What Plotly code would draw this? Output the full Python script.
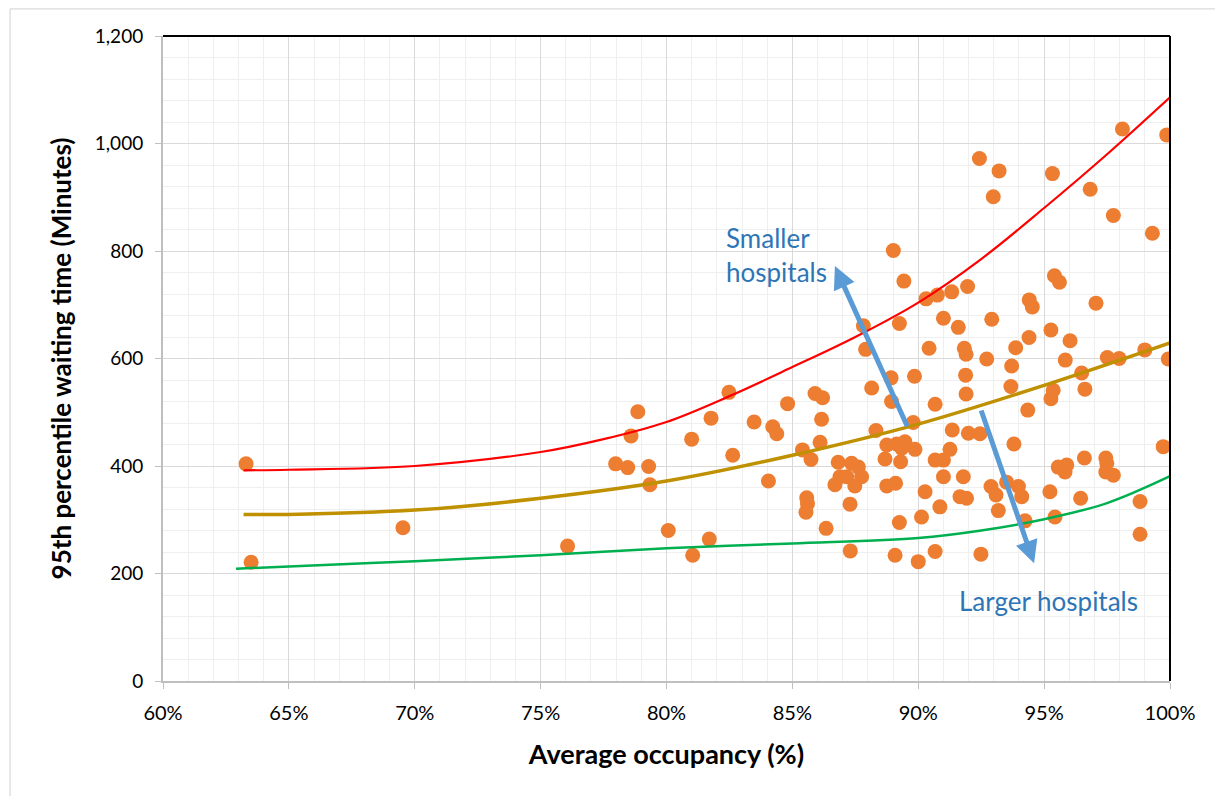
import plotly.graph_objects as go

# ---- data ----
occupancy = [63.30, 63.50, 69.53, 76.07, 77.98, 78.46, 78.59, 78.86, 79.29, 79.34,
             80.07, 81.00, 81.04, 81.70, 81.77, 82.48, 82.63, 83.48, 84.05, 84.22,
             84.38, 84.81, 85.40, 85.74, 85.57, 85.60, 85.54, 85.90, 86.20, 86.16,
             86.10, 86.34, 87.30, 87.29, 86.82, 87.35, 87.62, 87.75, 86.89, 87.16,
             86.69, 87.48, 87.82, 87.91, 88.15, 88.32, 88.75, 88.68, 88.75, 88.92,
             88.94, 89.01, 89.10, 89.14, 89.08, 89.25, 89.25, 89.30, 89.34, 89.43,
             89.47, 89.80, 89.85, 89.87, 90.00, 90.13, 90.27, 90.31, 90.43, 90.67,
             90.67, 90.67, 90.76, 90.86, 91.00, 91.00, 91.00, 91.26, 91.33, 91.35,
             91.59, 91.79, 91.66, 91.92, 91.83, 91.90, 91.88, 91.90, 91.96, 91.99,
             92.43, 92.45, 92.49, 92.72, 92.89, 92.92, 92.98, 93.09, 93.18, 93.21,
             93.51, 93.68, 93.71, 93.80, 93.87, 93.98, 94.11, 94.24, 94.35, 94.40,
             94.41, 94.53, 95.23, 95.27, 95.27, 95.33, 95.36, 95.41, 95.43, 95.56,
             95.61, 95.83, 95.84, 95.90, 96.03, 96.45, 96.49, 96.60, 96.62, 96.83,
             97.06, 97.45, 97.49, 97.45, 97.51, 97.75, 97.75, 97.98, 98.11, 98.81,
             98.81, 99.00, 99.30, 99.73, 99.87, 99.93]
waiting = [404, 221, 285, 251, 404, 397, 456, 501, 399, 365,
           280, 450, 234, 264, 489, 537, 420, 482, 372, 473,
           460, 516, 430, 412, 341, 330, 314, 535, 527, 487,
           444, 284, 242, 329, 407, 405, 398, 380, 380, 380,
           365, 363, 661, 617, 545, 466, 439, 413, 363, 564,
           520, 801, 368, 441, 234, 665, 295, 408, 433, 744,
           445, 481, 567, 431, 222, 305, 352, 711, 619, 515,
           411, 241, 718, 324, 675, 411, 380, 431, 724, 467,
           658, 380, 343, 340, 619, 608, 569, 534, 734, 461,
           972, 460, 236, 599, 362, 673, 901, 346, 317, 949,
           370, 548, 586, 441, 620, 362, 343, 298, 504, 639,
           709, 696, 352, 653, 525, 944, 541, 754, 305, 398,
           742, 389, 597, 402, 633, 340, 573, 415, 543, 915,
           703, 415, 405, 389, 602, 383, 866, 600, 1027, 334,
           273, 616, 833, 436, 1016, 599]

upper_x = [63.2, 65, 70, 75, 77.5, 80, 82.5, 85, 87.5, 90, 92.5, 95, 97.5, 100]
upper_y = [392, 393, 400, 426, 450, 482, 530, 584, 640, 704, 785, 880, 980, 1086]
mid_x = [63.2, 65, 70, 75, 80, 85, 90, 95, 100]
mid_y = [310, 310, 318, 340, 372, 420, 478, 550, 629]
lower_x = [62.9, 65, 70, 75, 80, 85, 90, 92.5, 95, 97.5, 100]
lower_y = [209, 213, 223, 234, 247, 256, 266, 280, 301, 331, 381]

x_ticks = [60, 65, 70, 75, 80, 85, 90, 95, 100]
x_labels = [f"{v}%" for v in x_ticks]

FONT = "Lato"
TXT = "#000000"
BLUE = "#2E75B6"
ARROW = "#5B9BD5"

fig = go.Figure()
fig.add_trace(go.Scatter(x=occupancy, y=waiting, mode="markers",
                         marker=dict(color="#ED7D31", size=15, line=dict(width=0)),
                         hoverinfo="x+y", showlegend=False))
fig.add_trace(go.Scatter(x=upper_x, y=upper_y, mode="lines", line=dict(color="#FF0000", width=2.2, shape="spline"),
                         showlegend=False))
fig.add_trace(go.Scatter(x=mid_x, y=mid_y, mode="lines", line=dict(color="#BF9000", width=3.5, shape="spline"),
                         showlegend=False))
fig.add_trace(go.Scatter(x=lower_x, y=lower_y, mode="lines", line=dict(color="#00B050", width=2.5, shape="spline"),
                         showlegend=False))

fig.update_layout(
    width=1215, height=788,
    margin=dict(l=155, r=53, t=28, b=115),
    paper_bgcolor="white", plot_bgcolor="white",
    font=dict(family=FONT, color=TXT, size=19),
    xaxis=dict(range=[60, 100], tickvals=x_ticks, ticktext=x_labels,
               showgrid=True, gridcolor="#D9D9D9", gridwidth=1,
               minor=dict(dtick=1, showgrid=True, gridcolor="#EFEFEF", gridwidth=1),
               showline=True, linecolor="#BFBFBF", linewidth=2,
               ticks="outside", ticklen=6, tickcolor="#BFBFBF", ticklabelstandoff=7,
               tickfont=dict(size=20, family=FONT), zeroline=False,
               title=dict(text="<b>Average occupancy (%)</b>", font=dict(size=27, family=FONT), standoff=22)),
    yaxis=dict(range=[0, 1200], dtick=200, tickformat=",",
               showgrid=True, gridcolor="#D9D9D9", gridwidth=1,
               minor=dict(dtick=40, showgrid=True, gridcolor="#EFEFEF", gridwidth=1),
               showline=True, linecolor="#BFBFBF", linewidth=2,
               ticks="outside", ticklen=6, tickcolor="#BFBFBF", ticklabelstandoff=8,
               tickfont=dict(size=19, family=FONT), zeroline=False,
               title=dict(text="<b>95th percentile waiting time (Minutes)</b>", font=dict(size=26, family=FONT), standoff=16)),
    shapes=[
        dict(type="line", xref="paper", yref="paper", x0=0, x1=1, y0=1, y1=1,
             line=dict(color="black", width=2)),
        dict(type="line", xref="paper", yref="paper", x0=1, x1=1, y0=0, y1=1,
             line=dict(color="black", width=2)),
        dict(type="rect", xref="paper", yref="paper", x0=-0.1519, x1=1.07, y0=-0.2, y1=1.042,
             line=dict(color="#D0D0D0", width=1), layer="below"),
    ],
    annotations=[
        dict(x=86.69, y=772, xref="x", yref="y", ax=89.59, ay=471, axref="x", ayref="y",
             showarrow=True, arrowhead=2, arrowsize=0.9, arrowwidth=5, arrowcolor=ARROW, text=""),
        dict(x=94.6, y=219, xref="x", yref="y", ax=92.48, ay=506, axref="x", ayref="y",
             showarrow=True, arrowhead=2, arrowsize=0.9, arrowwidth=5, arrowcolor=ARROW, text=""),
        dict(x=82.3, y=858, xref="x", yref="y", xanchor="left", yanchor="top", align="left",
             showarrow=False, text="Smaller<br>hospitals", font=dict(size=26, color=BLUE, family=FONT)),
        dict(x=91.55, y=149, xref="x", yref="y", xanchor="left", yanchor="middle", align="left",
             showarrow=False, text="Larger hospitals", font=dict(size=26, color=BLUE, family=FONT)),
    ],
)

fig.write_html("out.html")
